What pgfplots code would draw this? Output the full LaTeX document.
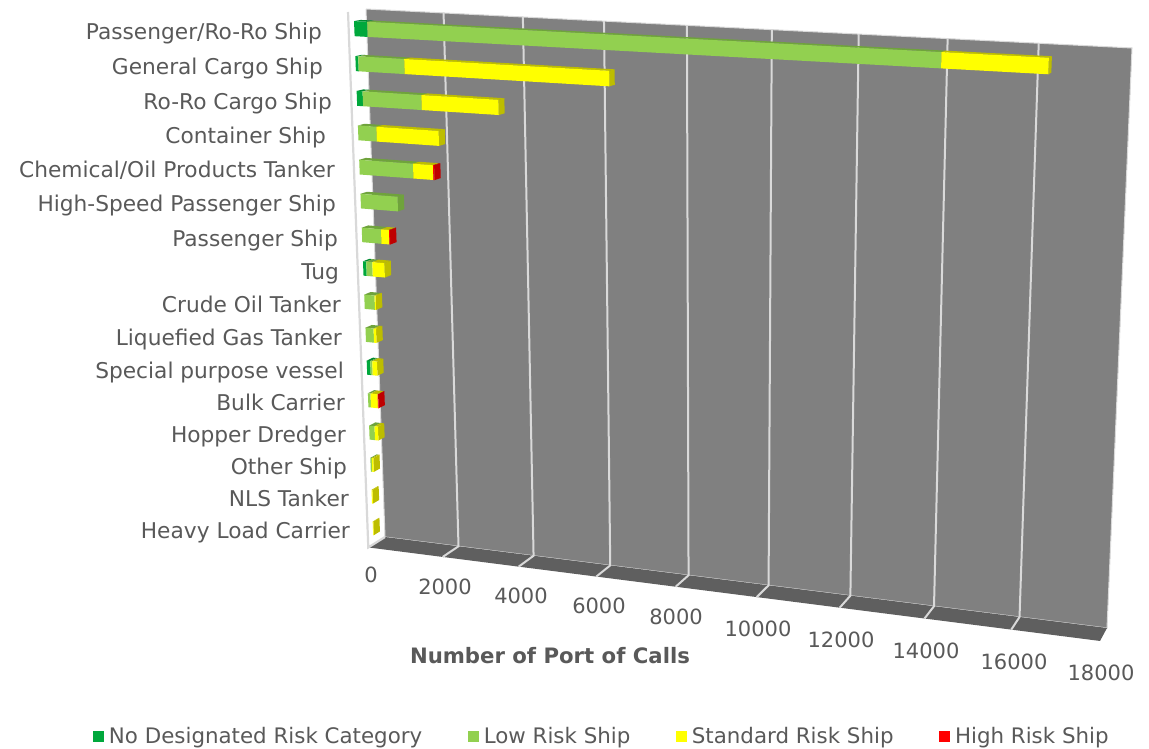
\documentclass[border=0pt]{standalone}
\usepackage{pgfplots}
\pgfplotsset{compat=1.18}
\usepackage{fontspec}
\setmainfont{DejaVu Sans}
\definecolor{txt}{HTML}{595959}
\definecolor{wall}{HTML}{808080}
\definecolor{floorc}{HTML}{5F5F5F}
\definecolor{gridc}{HTML}{D9D9D9}
\definecolor{ndF}{HTML}{00A83C}\definecolor{ndD}{HTML}{008A30}
\definecolor{lowF}{HTML}{92D050}\definecolor{lowD}{HTML}{6FA33C}
\definecolor{stdF}{HTML}{FFFF00}\definecolor{stdD}{HTML}{BDBD00}
\definecolor{highF}{HTML}{FF0000}\definecolor{highD}{HTML}{BE0000}

% Half thickness of a bar (in category bands), front and back depth of the bars
\def\barH{0.215}\def\tF{0.69}\def\tB{0.32}

% One polygon: rows of value, category position, edge (-1 top, +1 bottom), depth
\newcommand\Poly[2]{%
  \addplot[forget plot, draw=none, fill=#1, mark=none]
  table[row sep=\\,
    x expr={PX(\thisrow{v}/18000,(\thisrow{k}-0.5+\thisrow{e}*\barH)/16,\thisrow{d})},
    y expr={PY(\thisrow{v}/18000,(\thisrow{k}-0.5+\thisrow{e}*\barH)/16,\thisrow{d})}]
  {v k e d\\ #2};
}
% Top and front faces of a segment running from value #2 to #3 in category #1
\newcommand\Seg[5]{%
  \Poly{#5}{#2 #1 -1 \tF\\ #3 #1 -1 \tF\\ #3 #1 -1 \tB\\ #2 #1 -1 \tB\\ #2 #1 -1 \tF\\}
  \Poly{#4}{#2 #1 -1 \tF\\ #3 #1 -1 \tF\\ #3 #1 1 \tF\\ #2 #1 1 \tF\\ #2 #1 -1 \tF\\}
}
% End face of a bar
\newcommand\EndFace[3]{%
  \Poly{#3}{#2 #1 -1 \tF\\ #2 #1 -1 \tB\\ #2 #1 1 \tB\\ #2 #1 1 \tF\\ #2 #1 -1 \tF\\}
}
% Category number, then the four risk counts of that category
\newcommand\BarRow[5]{%
  \edef\cA{\the\numexpr#2\relax}%
  \edef\cB{\the\numexpr#2+#3\relax}%
  \edef\cC{\the\numexpr#2+#3+#4\relax}%
  \edef\cD{\the\numexpr#2+#3+#4+#5\relax}%
  \ifnum#5>0 \def\endc{highD}\else\ifnum#4>0 \def\endc{stdD}\else\def\endc{lowD}\fi\fi
  \edef\next{\noexpand\EndFace{#1}{\cD}{\endc}}\next
  \ifnum#2>0 \edef\next{\noexpand\Seg{#1}{0}{\cA}{ndF}{ndD}}\next\fi
  \ifnum#3>0 \edef\next{\noexpand\Seg{#1}{\cA}{\cB}{lowF}{lowD}}\next\fi
  \ifnum#4>0 \edef\next{\noexpand\Seg{#1}{\cB}{\cC}{stdF}{stdD}}\next\fi
  \ifnum#5>0 \edef\next{\noexpand\Seg{#1}{\cC}{\cD}{highF}{highD}}\next\fi
}
% Gridline on the back wall and on to the front of the floor
\newcommand\GridLine[1]{%
  \addplot[forget plot, gridc, line width=2bp, mark=none]
    table[row sep=\\,
      x expr={PX(\thisrow{v}/18000,\thisrow{s},\thisrow{d})},
      y expr={PY(\thisrow{v}/18000,\thisrow{s},\thisrow{d})}]
    {v s d\\ #1 0 0\\ #1 1 0\\ #1 1 1\\};
}
\newcommand\CatLabel[3]{\node[anchor=base east, inner sep=0pt, text=txt, yshift=-1bp,
  font=\fontsize{21.8}{25}\selectfont] at (axis cs:#1,#2) {#3};}
\newcommand\ValLabel[3]{\node[anchor=center, inner sep=0pt, text=txt] at (axis cs:#1,#2) {#3};}

\begin{document}
\begin{tikzpicture}[
  declare function={
    PD(\a,\b,\c)=1-0.09868*\a+0.05752*\b-0.015*\c;
    PX(\a,\b,\c)=(654.3*\a+41.15*\b-23.2*\c+366)/PD(\a,\b,\c);
    PY(\a,\b,\c)=(34.26*\a+558.89*\b+2.82*\c+9)/PD(\a,\b,\c);
  },
  font=\fontsize{21.07}{25}\selectfont]
\begin{axis}[
  at={(0,0)}, anchor=south west,
  width=1149bp, height=749bp, scale only axis,
  xmin=0, xmax=1149, ymin=0, ymax=749, y dir=reverse,
  hide axis, clip=false,
  legend columns=4,
  legend style={at={(axis cs:93,736)}, anchor=west, draw=none, fill=none,
    inner sep=0pt, outer sep=0pt, text=txt,
    font=\fontsize{21.45}{25}\selectfont,
    /tikz/every even column/.append style={column sep=43.5bp},
    /tikz/every odd column/.append style={column sep=3bp}},
  legend cell align=left,
  legend image code/.code={\fill[draw=none,#1] (0bp,-5.5bp) rectangle (11bp,5.5bp);},
]
% Reserve the full canvas
\path (axis cs:0,0) rectangle (axis cs:1149,749);
% Back wall and floor
\addplot[forget plot, fill=wall, draw=gridc, line width=1pt]
  table[row sep=\\, x expr={PX(\thisrow{u},\thisrow{s},\thisrow{d})},
        y expr={PY(\thisrow{u},\thisrow{s},\thisrow{d})}]
  {u s d\\ 0 0 0\\ 1 0 0\\ 1 1 0\\ 0 1 0\\ 0 0 0\\};
\addplot[forget plot, fill=floorc, draw=none]
  table[row sep=\\, x expr={PX(\thisrow{u},\thisrow{s},\thisrow{d})},
        y expr={PY(\thisrow{u},\thisrow{s},\thisrow{d})}]
  {u s d\\ 0 1 0\\ 1 1 0\\ 1 1 1\\ 0 1 1\\ 0 1 0\\};
% Side wall edge and front edge of the floor
\addplot[forget plot, gridc, line width=2.2bp]
  table[row sep=\\, x expr={PX(\thisrow{u},\thisrow{s},\thisrow{d})},
        y expr={PY(\thisrow{u},\thisrow{s},\thisrow{d})}]
  {u s d\\ 0 0 1\\ 0 1 1\\ 0 1 0\\};
\GridLine{2000}\GridLine{4000}\GridLine{6000}\GridLine{8000}
\GridLine{10000}\GridLine{12000}\GridLine{14000}\GridLine{16000}

% Bars: category, no designated risk, low, standard, high
\BarRow{1}{340}{13680}{2330}{0}
\BarRow{2}{75}{1185}{5100}{0}
\BarRow{3}{155}{1515}{1950}{0}
\BarRow{4}{0}{480}{1605}{0}
\BarRow{5}{0}{1400}{515}{30}
\BarRow{6}{0}{970}{0}{0}
\BarRow{7}{0}{507}{210}{20}
\BarRow{8}{86}{160}{320}{0}
\BarRow{9}{0}{273}{27}{0}
\BarRow{10}{0}{216}{65}{0}
\BarRow{11}{96}{53}{125}{0}
\BarRow{12}{0}{70}{188}{15}
\BarRow{13}{0}{146}{91}{0}
\BarRow{14}{0}{40}{40}{0}
\BarRow{15}{0}{0}{25}{0}
\BarRow{16}{0}{0}{15}{0}

\addlegendimage{fill=ndF}\addlegendentry{No Designated Risk Category}
\addlegendimage{fill=lowF}\addlegendentry{Low Risk Ship}
\addlegendimage{fill=stdF}\addlegendentry{Standard Risk Ship}
\addlegendimage{fill=highF}\addlegendentry{High Risk Ship}

\CatLabel{322}{39}{Passenger/Ro-Ro Ship}
\CatLabel{323}{74}{General Cargo Ship}
\CatLabel{332}{109}{Ro-Ro Cargo Ship}
\CatLabel{326}{143}{Container Ship}
\CatLabel{335}{177}{Chemical/Oil Products Tanker}
\CatLabel{336}{211}{High-Speed Passenger Ship}
\CatLabel{338}{245}{Passenger Ship}
\CatLabel{339}{278}{Tug}
\CatLabel{341}{311}{Crude Oil Tanker}
\CatLabel{342}{344}{Liquefied Gas Tanker}
\CatLabel{344}{377}{Special purpose vessel}
\CatLabel{345}{409}{Bulk Carrier}
\CatLabel{346}{441}{Hopper Dredger}
\CatLabel{347}{473}{Other Ship}
\CatLabel{349}{505}{NLS Tanker}
\CatLabel{350}{537}{Heavy Load Carrier}

\ValLabel{371}{575}{0}
\ValLabel{445}{587}{2000}
\ValLabel{521}{596}{4000}
\ValLabel{599}{606}{6000}
\ValLabel{676}{617}{8000}
\ValLabel{758}{629}{10000}
\ValLabel{841}{640}{12000}
\ValLabel{926}{651}{14000}
\ValLabel{1014}{662}{16000}
\ValLabel{1101}{673}{18000}
\node[anchor=center, inner sep=0pt, text=txt, font=\fontsize{21.3}{25}\selectfont\bfseries]
  at (axis cs:550,656) {Number of Port of Calls};
\end{axis}
\end{tikzpicture}
\end{document}
